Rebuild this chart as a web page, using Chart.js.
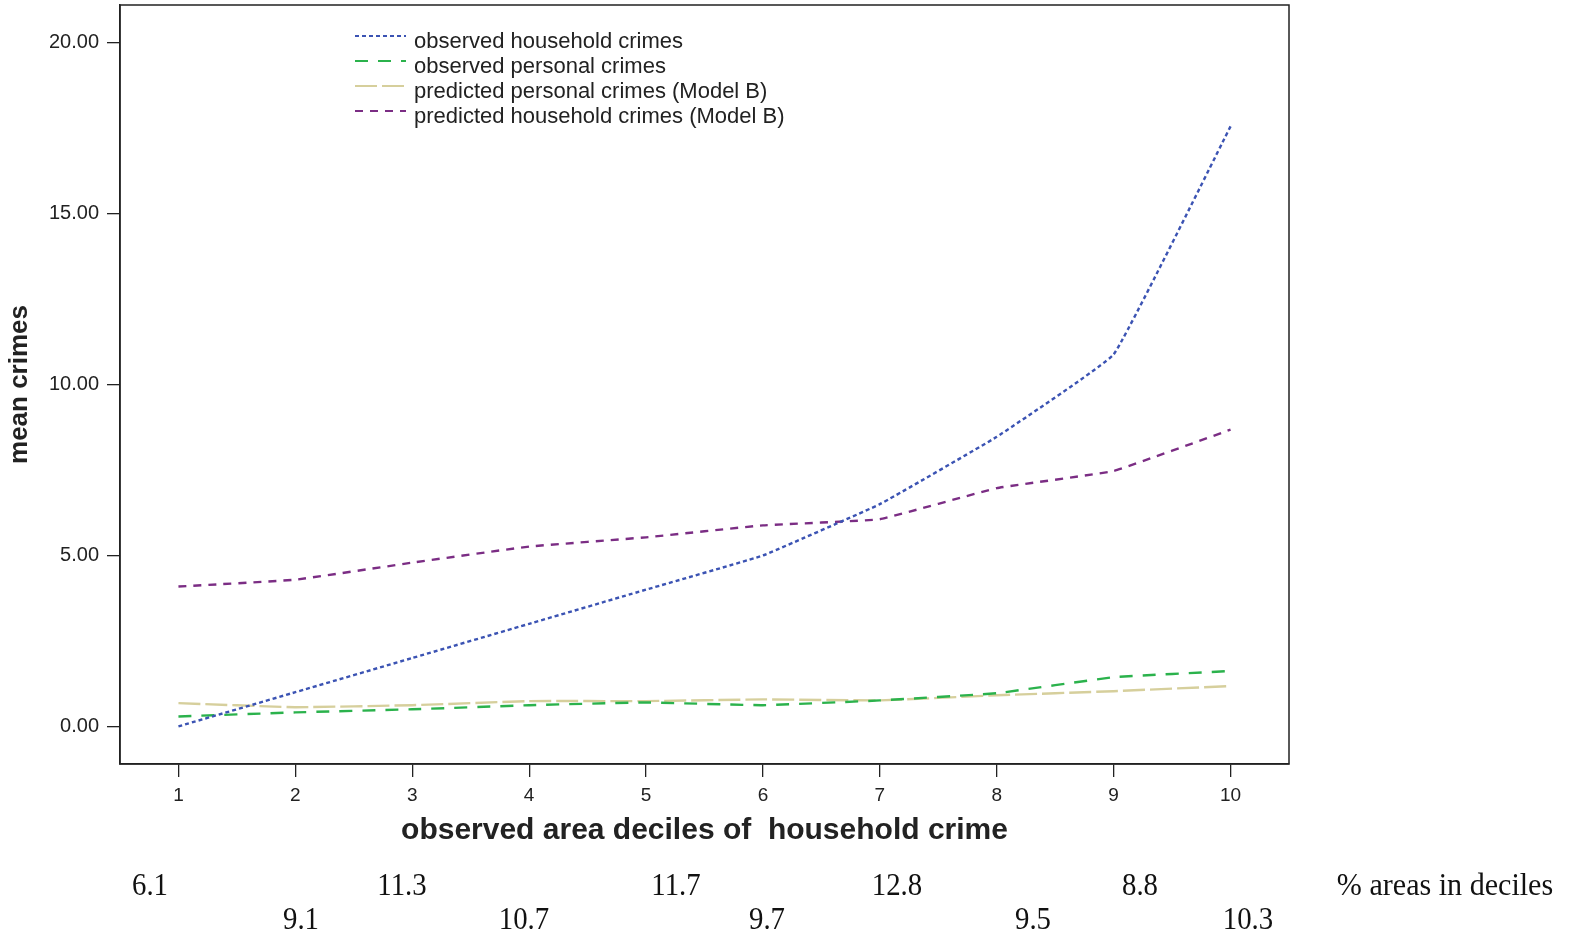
<!DOCTYPE html>
<html>
<head>
<meta charset="utf-8">
<script src="https://cdn.jsdelivr.net/npm/chart.js@4.4.1/dist/chart.umd.min.js"></script>
<style>
  body { margin: 0; background: #fff; }
  #idCanvas { display: block; }
</style>
</head>
<body>
<canvas id="idCanvas" width="1575" height="938"></canvas>
<script>
// deciles on x axis
const deciles = [1, 2, 3, 4, 5, 6, 7, 8, 9, 10];
const yTicks = [0, 5, 10, 15, 20];

// mean crimes per decile
const obsHousehold = [0.0, 1.0, 2.0, 3.0, 4.0, 5.0, 6.5, 8.47, 10.88, 17.55];
const obsPersonal = [0.29, 0.41, 0.5, 0.62, 0.7, 0.62, 0.76, 0.97, 1.44, 1.62];
const predPersonal = [0.68, 0.56, 0.62, 0.74, 0.74, 0.79, 0.76, 0.91, 1.03, 1.18];
const predHousehold = [4.09, 4.29, 4.79, 5.26, 5.53, 5.88, 6.06, 6.97, 7.47, 8.68];

// % of areas in each decile (printed under the chart)
const pctAreas = ['6.1', '9.1', '11.3', '10.7', '11.7', '9.7', '12.8', '9.5', '8.8', '10.3'];

function pts(vals) {
    return deciles.map((d, i) => ({ x: d, y: vals[i] }));
}

const series = [
    { label: 'observed household crimes', data: obsHousehold, color: '#3b53b3', dash: [4, 3] },
    { label: 'observed personal crimes', data: obsPersonal, color: '#2bb24c', dash: [13, 10] },
    { label: 'predicted personal crimes (Model B)', data: predPersonal, color: '#d6cf9c', dash: [22, 5] },
    { label: 'predicted household crimes (Model B)', data: predHousehold, color: '#7b2d84', dash: [8, 7] }
];

// frame, legend and the % row under the chart
const extras = {
    id: 'extras',
    afterDraw(chart) {
        const ctx = chart.ctx;
        const a = chart.chartArea;
        ctx.save();
        ctx.strokeStyle = '#222';
        ctx.lineWidth = 1.5;
        ctx.strokeRect(a.left, a.top, a.right - a.left, a.bottom - a.top);

        // legend
        ctx.font = '22px "Liberation Sans", Arial, sans-serif';
        ctx.textBaseline = 'middle';
        chart.data.datasets.forEach((ds, i) => {
            const y = 36 + i * 25;
            ctx.strokeStyle = ds.borderColor;
            ctx.lineWidth = 2.2;
            ctx.setLineDash(ds.borderDash);
            ctx.beginPath();
            ctx.moveTo(355, y);
            ctx.lineTo(406, y);
            ctx.stroke();
            ctx.setLineDash([]);
            ctx.fillStyle = '#222';
            ctx.fillText(ds.label, 414, y + 6);
        });

        // % areas in deciles
        const xs = [150, 301, 402, 524, 676, 767, 897, 1033, 1140, 1248];
        ctx.fillStyle = '#111';
        ctx.font = '32px "Liberation Serif", "Times New Roman", serif';
        ctx.textAlign = 'center';
        ctx.textBaseline = 'middle';
        pctAreas.forEach((t, i) => {
            const y = i % 2 === 0 ? 887 : 921;
            ctx.save();
            ctx.translate(xs[i], y);
            ctx.scale(0.9, 1);
            ctx.fillText(t, 0, 0);
            ctx.restore();
        });
        ctx.save();
        ctx.translate(1445, 887);
        ctx.scale(0.94, 1);
        ctx.fillText('% areas in deciles', 0, 0);
        ctx.restore();
        ctx.restore();
    }
};

let ctx = document.getElementById('idCanvas').getContext('2d');
let myChart = new Chart(ctx, {
    type: 'line',
    data: {
        datasets: series.map(s => ({
            label: s.label,
            data: pts(s.data),
            borderColor: s.color,
            backgroundColor: s.color,
            borderDash: s.dash,
            borderWidth: 2.4,
            pointRadius: 0,
            tension: 0.08,
            fill: false
        }))
    },
    options: {
        responsive: false,
        animation: false,
        layout: { padding: { left: 0, top: 5, right: 286, bottom: 85 } },
        plugins: { legend: { display: false }, tooltip: { enabled: false } },
        scales: {
            x: {
                type: 'linear',
                min: 0.5,
                max: 10.5,
                afterFit: s => { s.height = 89; },
                afterBuildTicks: s => { s.ticks = deciles.map(v => ({ value: v })); },
                grid: { drawOnChartArea: false, drawTicks: true, tickLength: 13, color: '#222', lineWidth: 1.3 },
                border: { display: true, color: '#222', width: 1.5 },
                ticks: {
                    color: '#222',
                    padding: 7,
                    font: { family: '"Liberation Sans Narrow", "Liberation Sans", Arial', size: 19 }
                },
                title: {
                    display: true,
                    text: 'observed area deciles of  household crime',
                    color: '#222',
                    padding: { top: 10 },
                    font: { family: '"Liberation Sans Narrow", "Liberation Sans", Arial', size: 30, weight: 'bold' }
                }
            },
            y: {
                min: -1.1,
                max: 21.1,
                afterFit: s => { s.width = 120; s.paddingTop = 0; s.paddingBottom = 0; },
                afterBuildTicks: s => { s.ticks = yTicks.map(v => ({ value: v })); },
                grid: { drawOnChartArea: false, drawTicks: true, tickLength: 13, color: '#222', lineWidth: 1.3 },
                border: { display: true, color: '#222', width: 1.5 },
                ticks: {
                    color: '#222',
                    padding: 8,
                    font: { family: '"Liberation Sans", Arial', size: 20 },
                    callback: v => Number(v).toFixed(2)
                },
                title: {
                    display: true,
                    text: 'mean crimes',
                    color: '#222',
                    padding: { bottom: 0 },
                    font: { family: '"Liberation Sans Narrow", "Liberation Sans", Arial', size: 26, weight: 'bold' }
                }
            }
        }
    },
    plugins: [extras]
});
</script>
</body>
</html>
